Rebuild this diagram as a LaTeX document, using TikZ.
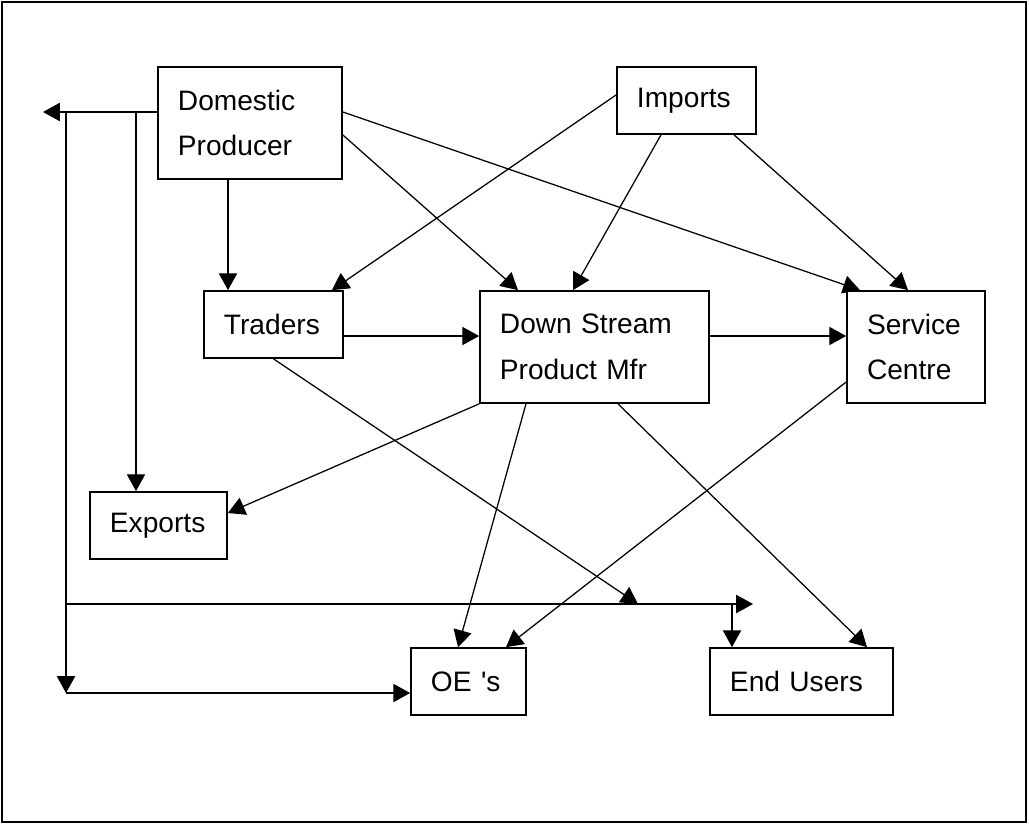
\documentclass[tikz,border=0pt]{standalone}
\usepackage{fontspec}
\setmainfont{Liberation Sans}
\usetikzlibrary{arrows.meta}
\tikzset{
  box/.style={draw, line width=1.2pt, align=left, inner xsep=0.5cm, inner ysep=0pt,
    font=\fontsize{20}{32.6}\selectfont},
  flow/.style={-{Triangle[length=12pt,width=13pt]}, line width=0.9pt}
}
\begin{document}
\begin{tikzpicture}
      [x=0.025cm, y=-0.025cm]
      \useasboundingbox (0,0) rectangle (1029,824);
      \draw[line width=1.5pt] (2,2) rectangle (1026,822);
      \node[box, minimum width=4.6cm, minimum height=2.8cm, text width=3.6cm](dom) at (250, 123) {Domestic\\Producer};
      \node[box, minimum width=3.475cm, minimum height=1.675cm, text width=2.475cm](imp) at (686.5, 100.5) {Imports};
      \node[box, minimum width=3.475cm, minimum height=1.675cm, text width=2.475cm](trd) at (273.5, 324.5) {Traders};
      \node[box, minimum width=5.725cm, minimum height=2.8cm, text width=4.725cm](dsp) at (594.5, 347) {Down Stream\\Product Mfr};
      \node[box, minimum width=3.45cm, minimum height=2.8cm, text width=2.45cm](svc) at (916, 347) {Service\\Centre};
      \node[box, minimum width=3.425cm, minimum height=1.675cm, text width=2.425cm](exp) at (158.5, 525.5) {Exports};
      \node[box, minimum width=2.875cm, minimum height=1.675cm, text width=1.875cm](oes) at (468.5, 681.5) {OE \textquotesingle s};
      \node[box, minimum width=4.575cm, minimum height=1.675cm, text width=3.575cm](usr) at (801.5, 681.5) {End Users};
      % free ends and corners
      \coordinate(tipL) at (43, 112);
      \coordinate(jA) at (66, 112);
      \coordinate(jB) at (136, 112);
      \coordinate(jC) at (66, 693);
      \coordinate(jH) at (66, 604);
      \coordinate(jU) at (732, 604);
      \coordinate(tipR) at (753, 604);
      \coordinate(tipT) at (638, 604);
      % left side
      \draw[flow](dom.west |- tipL) -- (tipL);
      \draw[flow](jA) -- (jC);
      \draw[flow](jC) -- (oes.west |- jC);
      \draw[flow](jB) -- (exp.north -| jB);
      \draw[flow](jH) -- (tipR);
      \draw[flow](jU) -- (usr.north -| jU);
      % from the producers
      \draw[flow]([xshift=-0.55cm]dom.south) -- ([xshift=-0.55cm]dom.south |- trd.north);
      \draw[flow]([yshift=0.275cm]dom.east) -- ([xshift=-1.4cm]svc.north);
      \draw[flow]([yshift=-0.3cm]dom.east) -- ([xshift=-1.9125cm]dsp.north);
      \draw[flow]([yshift=0.14cm]imp.west) -- ([xshift=1.4625cm]trd.north);
      \draw[flow]([xshift=-0.6375cm]imp.south) -- ([xshift=-0.5375cm]dsp.north);
      \draw[flow]([xshift=1.1875cm]imp.south) -- ([xshift=-0.2cm]svc.north);
      % middle row
      \draw[flow]([yshift=-0.2875cm]trd.east) -- ([yshift=-0.2875cm]trd.east -| dsp.west);
      \draw[flow]([yshift=0.275cm]dsp.east) -- ([yshift=0.275cm]dsp.east -| svc.west);
      \draw[flow](trd.south) -- (tipT);
      % to the users
      \draw[flow](dsp.south west) -- ([yshift=0.3125cm]exp.east);
      \draw[flow]([xshift=-1.7125cm]dsp.south) -- ([xshift=-0.2625cm]oes.north);
      \draw[flow]([xshift=0.5875cm]dsp.south) -- ([xshift=1.6375cm]usr.north);
      \draw[flow]([yshift=-0.875cm]svc.west) -- ([xshift=0.9375cm]oes.north);
  \end{tikzpicture}
\end{document}
